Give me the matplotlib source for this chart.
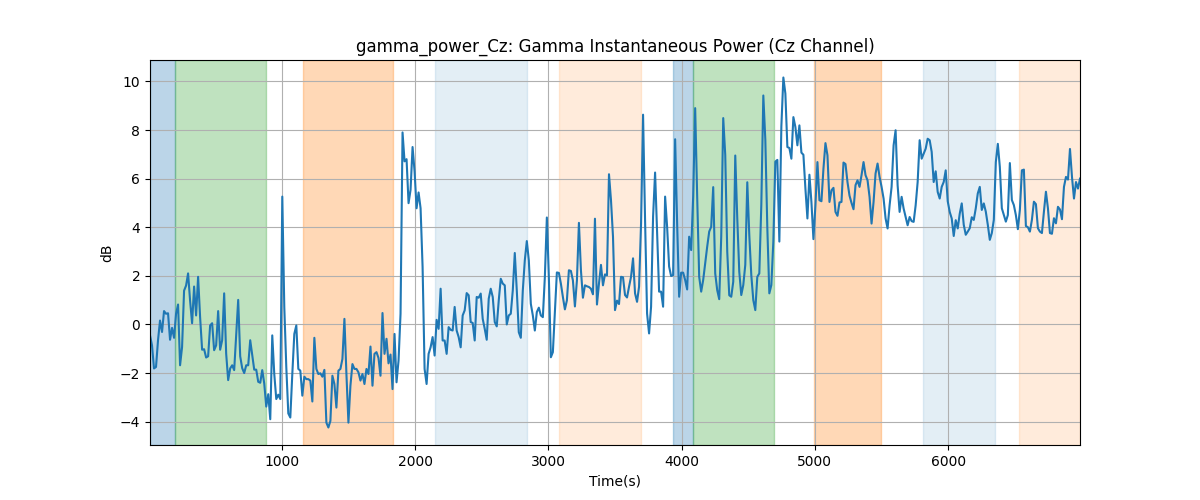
import matplotlib
matplotlib.use("Agg")
import matplotlib.pyplot as plt
import numpy as np

t_first = 9
t_last = 6990
gamma_db = [
    -0.45,
    -0.86, -1.81, -1.75, -0.65, 0.16, -0.31, 0.55, 0.44, 0.46, -0.63,
    -0.14, -0.55, 0.44, 0.82, -1.68, -0.93, 1.39, 1.6, 2.1, 0.98,
    0.05, 1.56, 0.37, 1.96, 0.3, -1.04, -1.02, -1.36, -1.31, -0.04,
    0.05, -1.06, -0.86, 0.55, -1.04, -0.65, 1.28, -1.2, -2.29, -1.81,
    -1.68, -1.88, -0.4, 1.01, -1.31, -1.8, -2.0, -1.68, -1.68, -0.65,
    -1.27, -1.86, -1.86, -2.36, -2.4, -1.88, -2.43, -3.38,
    -2.87, -3.9, -0.45, -2.04, -3.07, -2.89, -3.07, 5.26, 0.72, -1.76,
    -3.66, -3.83, -2.04, -0.39, -0.04, -1.83, -1.9, -2.93, -2.15, -2.25,
    -2.25, -2.31, -3.17, -0.55, -1.83, -2.04, -2.01, -2.15, -1.87, -4.04,
    -4.24, -3.97, -2.11, -2.45, -3.42, -1.9, -1.83, -1.42, 0.23, -2.04,
    -4.04, -2.52, -1.63, -1.83, -1.83, -1.97, -2.31, -2.04, -2.45, -1.83,
    -2.04, -0.91, -2.52, -1.21, -1.14, -1.38,
    -2.11, 0.47, -1.21, -0.59, -1.6, -1.24, -2.66, -0.39, -2.38, -1.49,
    0.44, 7.9, 6.71, 6.8, 4.99, 5.54, 7.3, 6.3, 4.78, 5.43,
    4.78, 2.37, -1.83, -2.45, -1.21, -0.94, -0.52, -1.28, 0.19, -0.18,
    1.47, -0.66, -0.66, -1.21, -0.11, -0.22, -0.25, 0.72, -0.25, -0.52,
    -0.94, 0.37, 0.58, 1.29, 1.2, 0.1, 0.06, -0.66, 1.13, 1.1,
    1.27, 0.23, -0.18, -0.63, 1.06, 1.47, 1.13, 0.1,
    -0.08, 0.99, 1.88, 1.68, 1.61, 0.0, 0.37, 0.44, 1.4, 2.94,
    1.4, -0.32, -0.55, 1.4, 2.64, 3.43, 2.64, 0.85, 0.37, -0.25,
    0.51, 0.69, 0.37, 0.3, 1.95, 4.4, 1.95, -1.35, -1.14, 0.51,
    2.14, 2.12, 1.68, 1.13, 0.62, 0.99, 2.23, 2.2, 1.81, 0.74,
    1.81, 4.18, 2.23, 1.1, 1.61, 1.57, 1.54, 1.47, 1.24, 4.35,
    0.82, 1.68, 2.45, 1.61, 2.06, 2.02, 6.18, 5.11,
    3.61, 0.59, 0.98, 0.84, 1.96, 1.94, 1.21, 1.11, 1.55, 1.96,
    2.72, 1.28, 0.93, 1.55, 4.16, 8.63, 4.3, 0.45, -0.37, 0.73,
    4.44, 6.25, 3.75, 1.35, 1.35, 0.73, 5.26, 4.02, 2.38, 1.99,
    2.03, 7.62, 4.16, 1.14, 2.13, 2.13, 1.83, 1.44, 3.61, 3.06,
    5.26, 8.9, 5.26, 1.96, 1.35, 1.83, 2.51, 3.2, 3.82, 4.02,
    5.65, 2.1, 1.41, 1.04, 3.61, 8.49, 6.98,
    3.0, 1.2, 1.14, 1.76, 6.95, 4.37, 2.17, 1.21, 1.62, 2.45,
    5.85, 3.68, 2.03, 1.0, 0.59, 1.96, 2.1, 4.92, 9.42, 7.6,
    3.96, 1.28, 1.62, 3.41, 6.7, 6.77, 3.41, 8.15, 10.16, 9.5,
    7.3, 7.26, 6.82, 8.53, 8.12, 7.37, 8.19, 7.07, 6.98, 5.59,
    4.36, 6.16, 5.04, 3.51, 4.91, 6.68, 5.11, 5.07, 6.41, 7.46,
    6.96, 5.04, 5.52, 5.62, 4.63, 4.47, 5.02, 5.04, 6.66,
    6.6, 5.85, 5.3, 5.0, 4.74, 5.73, 5.93, 5.66, 6.14, 6.68,
    6.14, 5.93, 5.25, 4.15, 5.04, 6.21, 6.62, 6.07, 5.66, 5.18,
    4.36, 3.95, 4.9, 5.66, 7.37, 7.99, 5.73, 4.63, 5.25, 4.77,
    4.42, 4.08, 4.42, 4.25, 4.22, 4.9, 5.86, 7.58, 6.82, 7.03,
    7.23, 7.64, 7.58, 7.1, 5.86, 6.3, 5.45, 5.18, 5.66, 5.86,
    6.34, 5.07, 4.63, 4.36, 3.64, 4.29, 3.95, 4.56,
    4.98, 4.1, 3.69, 3.82, 3.96, 4.41, 4.3, 4.78, 5.39, 5.66,
    4.71, 4.98, 4.64, 4.1, 3.48, 3.76, 4.3, 6.68, 7.43, 6.48,
    4.78, 4.5, 4.23, 4.5, 6.64, 5.12, 4.91, 4.5, 3.92, 4.71,
    6.34, 6.37, 4.05, 4.0, 3.82, 4.3, 5.05, 4.95, 3.96, 3.82,
    3.76, 4.64, 5.46, 4.78, 3.76, 3.73, 4.37, 4.16, 4.84, 4.73,
    4.33, 5.66, 6.07, 5.96, 7.22, 6.07, 5.18, 5.86, 5.59, 6.0,
]

# shaded segments (seconds)
seg_start = [9, 194, 1158, 2149, 3080, 3938, 4085, 4994, 5814, 6533]
seg_end = [194, 877, 1830, 2836, 3691, 4085, 4691, 5494, 6353, 6990]
seg_kind = [0, 1, 2, 3, 4, 0, 1, 2, 3, 4]

kind_color = ['tab:blue', 'tab:green', 'tab:orange', 'tab:blue', 'tab:orange']
kind_alpha = [0.3, 0.3, 0.3, 0.12, 0.15]

time = np.linspace(t_first, t_last, len(gamma_db))

fig, ax = plt.subplots(figsize=(12, 5), dpi=100)

for s, e, k in zip(seg_start, seg_end, seg_kind):
    ax.axvspan(s, e, color=kind_color[k], alpha=kind_alpha[k])

ax.plot(time, gamma_db, color='tab:blue', linewidth=1.5)

ax.set_xlim(t_first, t_last)
ax.set_title("gamma_power_Cz: Gamma Instantaneous Power (Cz Channel)")
ax.set_xlabel("Time(s)")
ax.set_ylabel("dB")
ax.grid(True)

plt.savefig("out.png")
